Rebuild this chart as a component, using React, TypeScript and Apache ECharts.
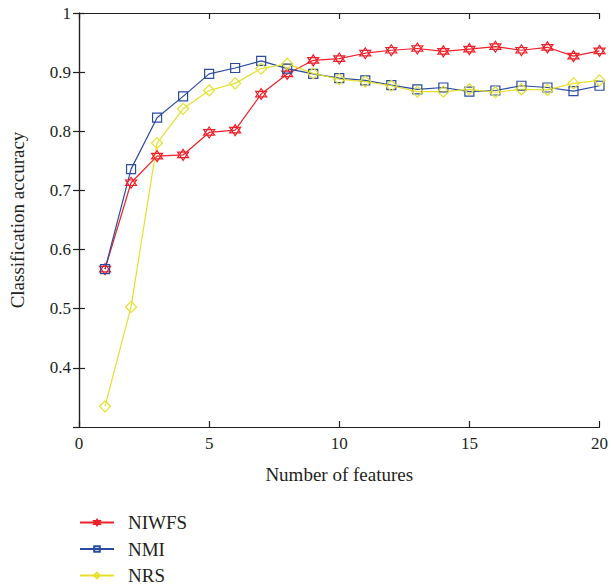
import React, { useEffect, useRef } from "react";
import * as echarts from "echarts";

const featureCounts = [1, 2, 3, 4, 5, 6, 7, 8, 9, 10, 11, 12, 13, 14, 15, 16, 17, 18, 19, 20];
const niwfs = [0.567, 0.713, 0.758, 0.760, 0.798, 0.802, 0.863, 0.897, 0.920, 0.923, 0.932, 0.937, 0.940, 0.935, 0.939, 0.943, 0.937, 0.942, 0.927, 0.936];
const nmi = [0.567, 0.736, 0.823, 0.859, 0.897, 0.907, 0.919, 0.906, 0.897, 0.890, 0.886, 0.878, 0.871, 0.874, 0.867, 0.869, 0.877, 0.874, 0.868, 0.877];
const nrs = [0.335, 0.503, 0.780, 0.838, 0.869, 0.881, 0.906, 0.914, 0.898, 0.888, 0.884, 0.877, 0.867, 0.867, 0.871, 0.866, 0.871, 0.870, 0.881, 0.886];
const seriesNames = ["NIWFS", "NMI", "NRS"];

const FONT = "'Liberation Serif', 'DejaVu Serif', serif";
const TEXT = "#231f20";
const RED = "#f0202a";
const BLUE = "#2a4b9e";
const YELLOW = "#e6e02c";

const STAR = "path://M0,-10L8.66,5L-8.66,5Z M0,10L8.66,-5L-8.66,-5Z";

function pairs(ys: number[]) {
  return featureCounts.map((x, i) => [x, ys[i]]);
}

export default function App() {
  const ref = useRef<HTMLDivElement>(null);
  useEffect(() => {
    if (!ref.current) return;
    const chart = echarts.init(ref.current, undefined, { renderer: "svg" });
    const axisLine = { show: true, lineStyle: { color: TEXT, width: 1.2 } };
    const tick = { show: true, inside: true, length: 6, lineStyle: { color: TEXT, width: 1.2 } };
    const mkSeries = (name: string, ys: number[], color: string, symbol: string, size: number) => ({
      name,
      type: "line",
      data: pairs(ys),
      symbol,
      symbolSize: size,
      lineStyle: { color, width: 1.2 },
      itemStyle: { color: "rgba(255,255,255,0)", borderColor: color, borderWidth: 1.2 },
      xAxisIndex: 0,
      yAxisIndex: 0,
    });
    chart.setOption({
      animation: false,
      backgroundColor: "#ffffff",
      textStyle: { fontFamily: FONT, color: TEXT },
      grid: { left: 78, right: 9, top: 13, bottom: 161, containLabel: false },
      legend: {
        orient: "vertical",
        left: 79,
        top: 513,
        height: 80,
        padding: 0,
        data: seriesNames,
        itemWidth: 34,
        itemHeight: 7,
        itemGap: 7.5,
        textStyle: { fontFamily: FONT, fontSize: 19, color: TEXT, lineHeight: 19, padding: [0, 0, 0, 9] },
      },
      xAxis: [
        {
          type: "value",
          min: 0,
          max: 20,
          interval: 5,
          position: "bottom",
          name: "Number of features",
          nameLocation: "middle",
          nameGap: 38,
          nameTextStyle: { fontFamily: FONT, fontSize: 19, color: TEXT },
          axisLine,
          axisTick: tick,
          axisLabel: { fontFamily: FONT, fontSize: 17, color: TEXT, margin: 8 },
          splitLine: { show: false },
        },
        {
          type: "value",
          min: 0,
          max: 20,
          interval: 5,
          position: "top",
          axisLine,
          axisTick: tick,
          axisLabel: { show: false },
          splitLine: { show: false },
        },
      ],
      yAxis: [
        {
          type: "value",
          min: 0.3,
          max: 1,
          interval: 0.1,
          position: "left",
          name: "Classification accuracy",
          nameLocation: "middle",
          nameGap: 52,
          nameTextStyle: { fontFamily: FONT, fontSize: 19, color: TEXT },
          axisLine,
          axisTick: tick,
          axisLabel: {
            fontFamily: FONT,
            fontSize: 17,
            color: TEXT,
            margin: 8,
            showMinLabel: false,
            formatter: (v: number) => String(Math.round(v * 10) / 10),
          },
          splitLine: { show: false },
        },
        {
          type: "value",
          min: 0.3,
          max: 1,
          interval: 0.1,
          position: "right",
          axisLine,
          axisTick: tick,
          axisLabel: { show: false },
          splitLine: { show: false },
        },
      ],
      series: [
        mkSeries(seriesNames[0], niwfs, RED, STAR, 11),
        mkSeries(seriesNames[1], nmi, BLUE, "rect", 9),
        mkSeries(seriesNames[2], nrs, YELLOW, "diamond", 11),
      ],
    });
    return () => chart.dispose();
  }, []);
  return (
    <div
      ref={ref}
      style={{ position: "fixed", left: 0, top: 0, width: 611, height: 588, background: "#fff" }}
    />
  );
}
